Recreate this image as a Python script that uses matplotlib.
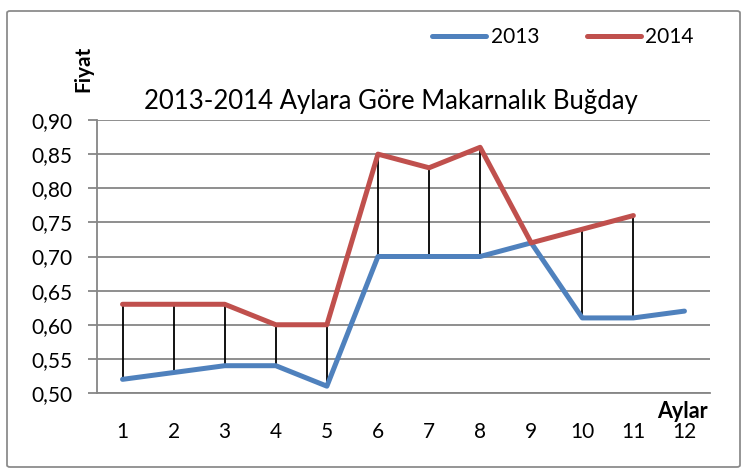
import matplotlib
matplotlib.use("Agg")
import matplotlib.pyplot as plt
from matplotlib.patches import FancyBboxPatch
import numpy as np

months = [1, 2, 3, 4, 5, 6, 7, 8, 9, 10, 11, 12]
month_labels = ["1", "2", "3", "4", "5", "6", "7", "8", "9", "10", "11", "12"]
v2013 = [0.52, 0.53, 0.54, 0.54, 0.51, 0.70, 0.70, 0.70, 0.72, 0.61, 0.61, 0.62]
v2014 = [0.63, 0.63, 0.63, 0.60, 0.60, 0.85, 0.83, 0.86, 0.72, 0.74, 0.76, None]
yticks = [0.50, 0.55, 0.60, 0.65, 0.70, 0.75, 0.80, 0.85, 0.90]
ytick_labels = ["0,50", "0,55", "0,60", "0,65", "0,70", "0,75", "0,80", "0,85", "0,90"]

plt.rcParams['font.family'] = ['Lato', 'DejaVu Sans']

W, H = 755, 472
fig = plt.figure(figsize=(W / 100, H / 100), dpi=100)
fig.patch.set_facecolor("white")

# outer border
border = FancyBboxPatch((7 / W, 1 - 467 / H), (740 - 7) / W, (467 - 11) / H,
                        boxstyle="round,pad=0,rounding_size=0.004",
                        transform=fig.transFigure, fill=False,
                        edgecolor="#8c8c8c", linewidth=1.3)
fig.patches.append(border)

x0, x1 = 97, 710
y0, y1 = 120, 393
ax = fig.add_axes([x0 / W, 1 - y1 / H, (x1 - x0) / W, (y1 - y0) / H])

blue = "#4F81BD"
red = "#C0504D"

a = np.array(v2013, dtype=float)
b = np.array([np.nan if v is None else v for v in v2014], dtype=float)
m = np.array(months)

# high-low lines
for xi, lo, hi in zip(m, a, b):
    if not np.isnan(hi) and abs(hi - lo) > 1e-9:
        ax.vlines(xi, min(lo, hi), max(lo, hi), color="black", linewidth=1.3, zorder=2)

ax.plot(m, a, color=blue, linewidth=3.6, solid_capstyle="round", solid_joinstyle="round",
        label="2013", zorder=3)
ax.plot(m, b, color=red, linewidth=3.6, solid_capstyle="round", solid_joinstyle="round",
        label="2014", zorder=3)

ax.set_xlim(0.5, 12.5)
ax.set_ylim(0.50, 0.90)
ax.set_yticks(yticks)
ax.set_yticklabels(ytick_labels)
ax.set_xticks(months)
ax.set_xticklabels(month_labels)
ax.yaxis.grid(True, color="#868686", linewidth=1.3)
ax.set_axisbelow(True)
for s in ["top", "right"]:
    ax.spines[s].set_visible(False)
ax.spines["left"].set_color("#868686")
ax.spines["bottom"].set_color("#868686")
ax.spines["left"].set_linewidth(1.3)
ax.spines["bottom"].set_linewidth(1.3)
ax.tick_params(axis="y", length=6.5, width=1.3, color="#868686", labelsize=15, pad=11)
ax.tick_params(axis="x", length=0, labelsize=15, pad=21)

fig.text(391 / W, 1 - 101 / H, "2013-2014 Aylara Göre Makarnalık Buğday",
         ha="center", va="center", fontsize=18.5)
fig.text(83 / W, 1 - 69 / H, "Fiyat", rotation=90, ha="center", va="center",
         fontsize=15, fontweight="bold")
fig.text(682 / W, 1 - 411 / H, "Aylar", ha="center", va="center",
         fontsize=15.5, fontweight="bold")

leg = fig.legend(loc="center", bbox_to_anchor=(563 / W, 1 - 37 / H), ncol=2,
                 frameon=False, fontsize=15, handlelength=2.6, columnspacing=2.3,
                 handletextpad=0.2)

fig.savefig("out.png", dpi=100)
